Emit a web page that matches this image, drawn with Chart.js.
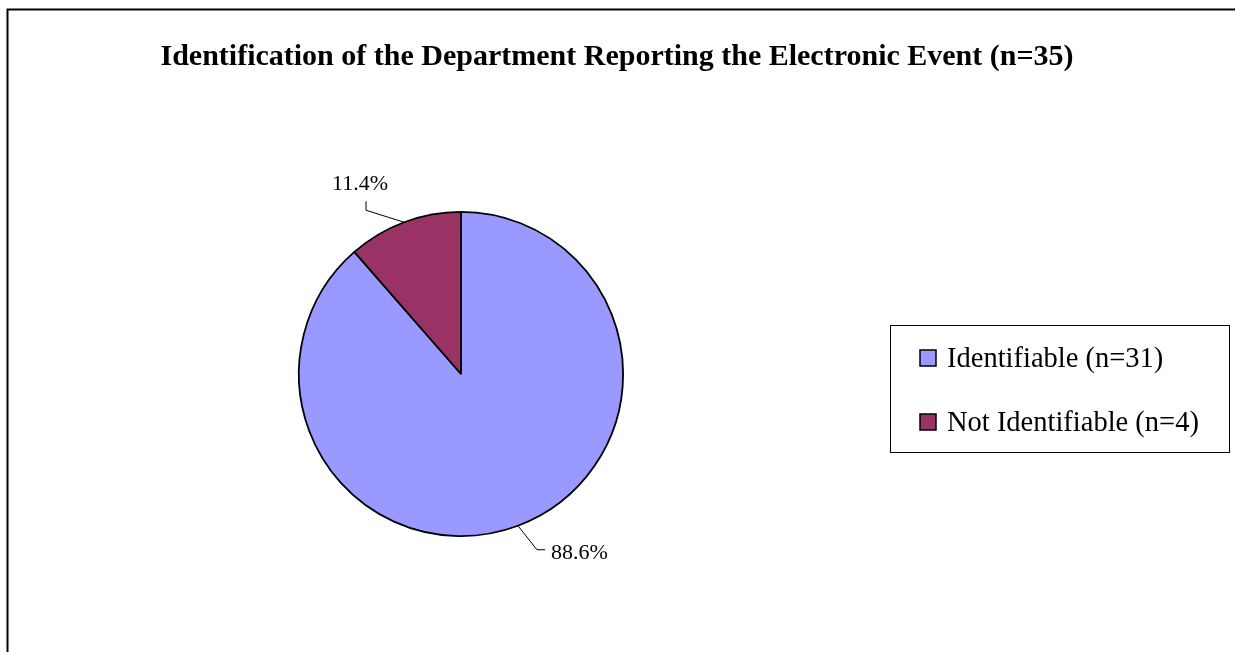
<!DOCTYPE html>
<html>
<head>
<meta charset="utf-8">
<script src="https://cdn.jsdelivr.net/npm/chart.js@4/dist/chart.umd.min.js"></script>
<style>
    html, body { margin: 0; padding: 0; background: #fff; }
    #wrap { width: 1235px; height: 652px; position: relative; }
</style>
</head>
<body>
<div id="wrap"><canvas id="pieChart" width="1235" height="652"></canvas></div>
<script>
const chartTitle = 'Identification of the Department Reporting the Electronic Event (n=35)';
const categories = ['Identifiable (n=31)', 'Not Identifiable (n=4)'];
const counts = [31, 4];
const percentLabels = ['88.6%', '11.4%'];
const sliceColors = ['#9999FF', '#993366'];

// frame, title, legend box and leader-line labels
const decorPlugin = {
    id: 'decor',
    afterDraw(chart) {
        const ctx = chart.ctx;
        ctx.save();

        // outer frame (only left and top visible)
        ctx.strokeStyle = '#000';
        ctx.lineWidth = 2;
        ctx.beginPath();
        ctx.moveTo(7.5, 652);
        ctx.lineTo(7.5, 9.5);
        ctx.lineTo(1235, 9.5);
        ctx.stroke();

        // title
        ctx.fillStyle = '#000';
        ctx.font = 'bold 30px "Liberation Serif", "Times New Roman", serif';
        ctx.textAlign = 'center';
        ctx.textBaseline = 'middle';
        ctx.fillText(chartTitle, 617, 57);

        // legend
        ctx.lineWidth = 1;
        ctx.strokeStyle = '#000';
        ctx.strokeRect(890.5, 325.5, 339, 127);
        ctx.font = '28.5px "Liberation Serif", "Times New Roman", serif';
        ctx.textAlign = 'left';
        const rows = [358, 422];
        categories.forEach((name, i) => {
            ctx.fillStyle = sliceColors[i];
            ctx.fillRect(920, rows[i] - 8, 16, 16);
            ctx.lineWidth = 1.5;
            ctx.strokeRect(920, rows[i] - 8, 16, 16);
            ctx.fillStyle = '#000';
            ctx.fillText(name, 947, rows[i] + 2);
        });

        // data labels with leader lines
        const meta = chart.getDatasetMeta(0);
        ctx.font = '22px "Liberation Serif", "Times New Roman", serif';
        ctx.lineWidth = 1;
        meta.data.forEach((arc, i) => {
            const p = arc.getProps(['x', 'y', 'startAngle', 'endAngle', 'outerRadius'], true);
            const mid = (p.startAngle + p.endAngle) / 2;
            const sx = p.x + Math.cos(mid) * p.outerRadius;
            const sy = p.y + Math.sin(mid) * p.outerRadius;
            ctx.beginPath();
            ctx.moveTo(sx, sy);
            if (i === 0) {
                ctx.lineTo(sx + 19, sy + 24);
                ctx.lineTo(sx + 27, sy + 24);
                ctx.stroke();
                ctx.textAlign = 'left';
                ctx.fillText(percentLabels[i], sx + 33, sy + 27);
            } else {
                ctx.lineTo(sx - 38, sy - 12);
                ctx.lineTo(sx - 38, sy - 21);
                ctx.stroke();
                ctx.textAlign = 'center';
                ctx.fillText(percentLabels[i], sx - 44, sy - 38);
            }
        });
        ctx.restore();
    }
};

const ctx = document.getElementById('pieChart').getContext('2d');
const pieChart = new Chart(ctx, {
    type: 'pie',
    data: {
        labels: categories,
        datasets: [{
            data: counts,
            backgroundColor: sliceColors,
            borderColor: '#000',
            borderWidth: 1.8
        }]
    },
    options: {
        responsive: false,
        animation: false,
        layout: {
            padding: { left: 298, right: 611, top: 211, bottom: 115 }
        },
        plugins: {
            legend: { display: false },
            title: { display: false },
            tooltip: { enabled: false }
        }
    },
    plugins: [decorPlugin]
});
</script>
</body>
</html>
